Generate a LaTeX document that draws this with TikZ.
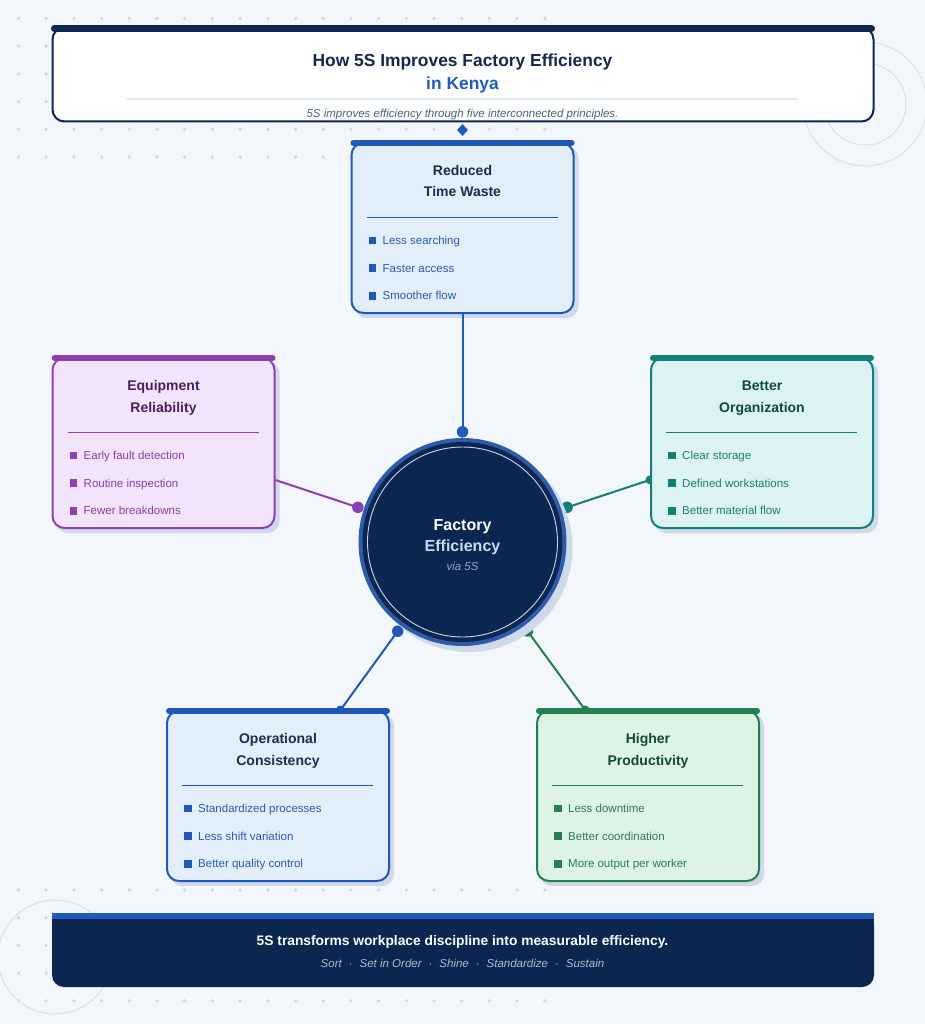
\documentclass[tikz,border=0pt]{standalone}
\usepackage{fontspec}
\setmainfont{Liberation Sans}
\usetikzlibrary{calc,shapes.geometric}
\pgfdeclarelayer{back}
\pgfdeclarelayer{mid}
\pgfsetlayers{back,mid,main}

\definecolor{bgc}{HTML}{F3F6FB}
\definecolor{navy}{HTML}{0B2651}
\definecolor{accent}{HTML}{1F5BBF}
\definecolor{dotc}{HTML}{CAD7EE}
\definecolor{ringc}{HTML}{D5E1F3}
\definecolor{shadowc}{HTML}{CFD9EA}
\definecolor{titlec}{HTML}{14284B}
\definecolor{subc}{HTML}{4F5F7A}
\definecolor{headline}{HTML}{DCE6F3}
\definecolor{hubring}{HTML}{2D5CAA}
\definecolor{hubline}{HTML}{C9D6EA}
\definecolor{hubtext}{HTML}{C8DAF5}
\definecolor{hubsub}{HTML}{93A6C6}
\definecolor{footsub}{HTML}{AEBBD2}
\definecolor{bluLine}{HTML}{1F58B8}
\definecolor{bluFill}{HTML}{E3EEFB}
\definecolor{bluTitle}{HTML}{1B2D50}
\definecolor{bluText}{HTML}{2A5CB0}
\definecolor{purLine}{HTML}{8E3FB5}
\definecolor{purFill}{HTML}{F2E4FA}
\definecolor{purTitle}{HTML}{4A1F63}
\definecolor{purText}{HTML}{8A3EB0}
\definecolor{teaLine}{HTML}{12807A}
\definecolor{teaFill}{HTML}{DDF3F3}
\definecolor{teaTitle}{HTML}{0F4A45}
\definecolor{teaText}{HTML}{1A7D76}
\definecolor{grnLine}{HTML}{23804F}
\definecolor{grnFill}{HTML}{DDF3E6}
\definecolor{grnTitle}{HTML}{124A2E}
\definecolor{grnText}{HTML}{2D7C54}

\tikzset{
  card/.style={rectangle, rounded corners=12pt, line width=2pt, minimum width=222pt, minimum height=170pt, inner sep=0pt},
  cardtitle/.style={font=\fontsize{14}{16}\selectfont\bfseries, anchor=base, inner sep=0pt},
  bullettext/.style={font=\fontsize{11.5}{13}\selectfont, anchor=base west, inner sep=0pt},
  bulletsq/.style={rectangle, minimum size=7.5pt, inner sep=0pt},
  conn/.style={line width=2pt},
  hubdot/.style={circle, inner sep=0pt, minimum size=11.5pt},
  enddot/.style={circle, inner sep=0pt, minimum size=9pt},
}

% name, position, colour prefix, title line 1, title line 2, bullets 1-3
\newcommand\mycard[8]{%
  \node[card, draw=#3Line, fill=#3Fill] (#1) at #2 {};
  \draw[#3Line, line width=6pt, line cap=round] ($(#1.north west)+(3,1)$) -- ($(#1.north east)+(-3,1)$);
  \node[cardtitle, text=#3Title] (#1-t1) at ($(#1.north)+(0,33.5)$) {#4};
  \node[cardtitle, text=#3Title] (#1-t2) at ($(#1.north)+(0,55)$) {#5};
  \draw[#3Line, line width=1pt] ($(#1.north west)+(16,75.5)$) -- ($(#1.north east)+(-17,75.5)$);
  \node[bulletsq, fill=#3Line] (#1-s1) at ($(#1.north west)+(22,98.3)$) {};
  \node[bullettext, text=#3Text] (#1-b1) at ($(#1.north west)+(32,102.4)$) {#6};
  \node[bulletsq, fill=#3Line] (#1-s2) at ($(#1.north west)+(22,126)$) {};
  \node[bullettext, text=#3Text] (#1-b2) at ($(#1.north west)+(32,130.1)$) {#7};
  \node[bulletsq, fill=#3Line] (#1-s3) at ($(#1.north west)+(22,153.8)$) {};
  \node[bullettext, text=#3Text] (#1-b3) at ($(#1.north west)+(32,157.9)$) {#8};
}
\newcommand\myshadow[1]{%
  \fill[shadowc, rounded corners=12pt] ($(#1.south west)+(4,4)$) rectangle ($(#1.north east)+(4,4)$);
}
% connector with dot at hub end only
\newcommand\myconn[3]{%
  \draw[conn, #3] (hub) -- (#1) node[hubdot, fill=#3, pos=0] (#2a) {};
}
% connector with dots at both ends
\newcommand\myconnb[3]{%
  \draw[conn, #3] (hub) -- (#1) node[hubdot, fill=#3, pos=0] (#2a) {} node[enddot, fill=#3, pos=1] (#2b) {};
}

\begin{document}
\begin{tikzpicture}[x=1pt,y=-1pt]
\useasboundingbox (0,0) rectangle (925,1024);

\begin{pgfonlayer}{back}
  \fill[bgc] (0,0) rectangle (925,1024);
  \foreach \i in {0,...,19} {
    \foreach \j in {0,...,5} {
      \fill[dotc] ({18.5+27.7*\i},{18.5+27.7*\j}) circle[radius=1.8pt];
    }
    \foreach \yy in {890,917.7,945.4,973.1,1000.8} {
      \fill[dotc] ({18.5+27.7*\i},\yy) circle[radius=1.8pt];
    }
  }
  \draw[ringc, line width=1pt] (865,104) circle[radius=62pt];
  \draw[ringc, line width=1pt] (865,104) circle[radius=41pt];
  \draw[ringc, line width=1pt] (55,957) circle[radius=57pt];
\end{pgfonlayer}

% header
\node[rectangle, rounded corners=12pt, draw=navy, line width=2pt, fill=white, minimum width=821pt, minimum height=94pt, inner sep=0pt] (header) at (463,74.5) {};
\draw[navy, line width=7pt, line cap=round] ($(header.north west)+(3,2)$) -- ($(header.north east)+(-3,2)$);
\node[font=\fontsize{17.4}{20}\selectfont\bfseries, text=titlec, anchor=base, inner sep=0pt] (title1) at (462.5,66.5) {How 5S Improves Factory Efficiency};
\node[font=\fontsize{17.4}{20}\selectfont\bfseries, text=accent, anchor=base, inner sep=0pt] (title2) at (462.5,90) {in Kenya};
\draw[headline, line width=1.5pt] (127,99) -- (798,99);
\node[font=\fontsize{11.5}{13}\selectfont\itshape, text=subc, anchor=base, inner sep=0pt] (subtitle) at (462.5,117.5) {5S improves efficiency through five interconnected principles.};
\node[diamond, fill=accent, inner sep=0pt, minimum width=11pt, minimum height=12pt] (dia) at (462.5,130) {};

% cards
\mycard{top}{(462.5,228)}{blu}{Reduced}{Time Waste}{Less searching}{Faster access}{Smoother flow}
\mycard{left}{(163.5,443)}{pur}{Equipment}{Reliability}{Early fault detection}{Routine inspection}{Fewer breakdowns}
\mycard{right}{(762,443)}{tea}{Better}{Organization}{Clear storage}{Defined workstations}{Better material flow}
\mycard{bl}{(278,796)}{blu}{Operational}{Consistency}{Standardized processes}{Less shift variation}{Better quality control}
\mycard{br}{(648,796)}{grn}{Higher}{Productivity}{Less downtime}{Better coordination}{More output per worker}

% hub
\node[circle, minimum size=220pt, inner sep=0pt] (hub) at (462.5,542) {};
\fill[shadowc] ($(hub.center)+(6,6)$) circle[radius=104pt];
\fill[hubring] (hub.center) circle[radius=104pt];
\fill[navy] (hub.center) circle[radius=100pt];
\draw[hubline, line width=0.9pt] (hub.center) circle[radius=95pt];
\node[font=\fontsize{16}{18}\selectfont\bfseries, text=white, anchor=base, inner sep=0pt] (hubt1) at (462.5,530.5) {Factory};
\node[font=\fontsize{16}{18}\selectfont\bfseries, text=hubtext, anchor=base, inner sep=0pt] (hubt2) at (462.5,551.5) {Efficiency};
\node[font=\fontsize{11.5}{13}\selectfont\itshape, text=hubsub, anchor=base, inner sep=0pt] (hubt3) at (462.5,570.5) {via 5S};

\begin{pgfonlayer}{mid}
  \myshadow{top}\myshadow{left}\myshadow{right}\myshadow{bl}\myshadow{br}
  \myconn{top}{ct}{accent}
  \myconn{left}{cl}{purLine}
  \myconnb{right}{cr}{teaLine}
  \myconnb{bl}{cbl}{bluLine}
  \myconnb{br}{cbr}{grnLine}
\end{pgfonlayer}

% footer
\node[rectangle, rounded corners=12pt, fill=navy, minimum width=822pt, minimum height=74pt, inner sep=0pt] (footer) at (463,950) {};
\fill[navy] ($(footer.north west)+(0,5)$) rectangle ($(footer.north east)+(0,20)$);
\fill[accent] (footer.north west) rectangle ($(footer.north east)+(0,6.5)$);
\node[font=\fontsize{13.8}{16}\selectfont\bfseries, text=white, anchor=base, inner sep=0pt] (foot1) at (462.5,945.6) {5S transforms workplace discipline into measurable efficiency.};
\node[font=\fontsize{11.5}{13}\selectfont\itshape, text=footsub, anchor=base, inner sep=0pt] (foot2) at (462.5,967.3) {Sort\hspace{7pt}·\hspace{7pt}Set in Order\hspace{7pt}·\hspace{7pt}Shine\hspace{7pt}·\hspace{7pt}Standardize\hspace{7pt}·\hspace{7pt}Sustain};
\end{tikzpicture}
\end{document}
